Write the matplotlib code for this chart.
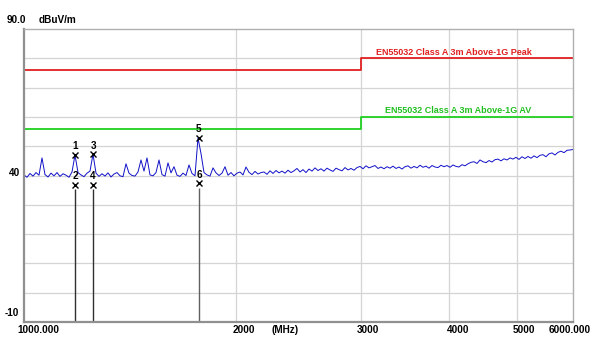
import matplotlib.pyplot as plt
import numpy as np

# sweep settings of the receiver (MHz)
f_start = 1000.0
f_stop = 6000.0

# measured trace (dBuV/m), one value per sweep point
trace = [
    40.2, 39.4, 40.7, 39.8, 41.0, 40.1, 46.0, 40.3, 39.5, 40.8,
    39.9, 41.0, 39.7, 40.6, 40.1, 39.4, 41.2, 47.0, 41.0, 40.2,
    39.6, 40.8, 41.5, 47.3, 40.8, 39.7, 40.6, 39.8, 40.9, 39.5,
    40.5, 41.0, 39.9, 39.6, 44.0, 40.8, 40.0, 39.8, 41.2, 45.3,
    41.5, 46.0, 40.2, 39.9, 41.0, 45.3, 40.3, 39.8, 44.3, 40.9,
    43.0, 40.1, 39.7, 40.8, 40.0, 43.6, 40.7, 39.9, 52.8, 47.5,
    41.0, 40.2, 39.8, 42.6, 40.9, 40.0, 40.8, 43.0, 40.1, 41.0,
    39.9, 40.8, 41.2, 40.2, 42.9, 41.1, 40.3, 41.4, 40.5, 41.0,
    41.2, 40.4, 41.6, 40.7, 41.7, 40.9, 41.5, 40.8, 41.8, 41.0,
    41.6, 42.4, 41.2, 42.0, 41.0, 42.2, 41.5, 42.6, 41.7, 42.3,
    41.5, 42.5, 41.9, 41.4, 42.5, 42.0, 41.6, 42.7, 41.9, 42.4,
    41.8, 42.7, 43.1, 42.3, 43.3, 42.6, 43.0, 43.4, 42.4, 42.9,
    42.3, 43.0, 42.5, 43.2, 42.4, 42.9, 42.2, 43.0, 43.3, 42.5,
    43.1, 42.6, 43.5, 42.8, 43.2, 42.5, 43.4, 42.9, 42.7, 43.5,
    43.0, 43.4, 42.8, 43.6, 43.1, 42.9, 43.7, 43.3, 44.0, 44.5,
    44.7, 44.1, 45.3, 44.7, 44.4, 45.1, 44.6, 45.4, 45.6, 45.0,
    45.7, 45.3, 46.0, 45.6, 46.2, 45.5, 46.4, 45.8, 46.5, 45.9,
    46.7, 46.1, 46.9, 47.1, 46.4, 47.4, 47.7, 47.0, 47.9, 48.3,
    47.8, 48.6, 48.7, 48.9,
]

# limit lines
limit_freq = [1000, 3000, 3000, 6000]
peak_limit = [76, 76, 80, 80]
av_limit = [56, 56, 60, 60]

# markers
marker_no = ["1", "2", "3", "4", "5", "6"]
marker_freq = [1181, 1181, 1253, 1253, 1770, 1770]
marker_level = [47.0, 36.8, 47.3, 36.8, 52.8, 37.4]

freq = np.geomspace(f_start, f_stop, len(trace))

W, H = 599, 340
fig = plt.figure(figsize=(W / 100, H / 100), dpi=100)
ax = fig.add_axes([24 / W, 18 / H, 549 / W, 293 / H])
ax.set_xscale("log")
ax.set_xlim(1000, 6000)
ax.set_ylim(-10, 90)

font = dict(family=["Liberation Sans", "DejaVu Sans"], fontsize=6.5, fontweight="bold")
tfont = dict(font, fontsize=7.2)

for y in range(0, 90, 10):
    ax.axhline(y, color="#d4d4d4", lw=0.9, zorder=0)
for x in [2000, 3000, 4000, 5000]:
    ax.axvline(x, color="#d4d4d4", lw=0.9, zorder=0)

ax.plot(limit_freq, peak_limit, color="#e02020", lw=1.3)
ax.plot(limit_freq, av_limit, color="#20d020", lw=1.3)
ax.text(3150, 81.2, "EN55032 Class A 3m Above-1G Peak", color="#e02020", **font)
ax.text(3250, 61.2, "EN55032 Class A 3m Above-1G AV", color="#20c020", **font)

ax.plot(freq, trace, color="#1010c8", lw=0.7)

for n, f, lv in zip(marker_no, marker_freq, marker_level):
    ax.plot(f, lv, marker="x", ms=5, mew=1.0, color="black", ls="none")
    ax.text(f, lv + 1.2, n, ha="center", va="bottom", **tfont)
    if int(n) % 2 == 0:
        ax.vlines(f, -10, lv - 1.5, color="#303030" if n != "6" else "#606060", lw=1.0)

ax.set_xticks([])
ax.set_yticks([])
ax.minorticks_off()
for side in ["left", "bottom"]:
    ax.spines[side].set_color("#909090")
    ax.spines[side].set_linewidth(1.6)
for side in ["right", "top"]:
    ax.spines[side].set_color("#b0b0b0")
    ax.spines[side].set_linewidth(1.0)

def px(x, y, s, **kw):
    fig.text(x / W, 1 - y / H, s, va="center", **tfont, **kw)

px(7, 20, "90.0")
px(39, 20, "dBuV/m")
px(9, 173, "40")
px(5, 313, "-10")
px(17, 330, "1000.000")
px(233, 330, "2000")
px(272, 330, "(MHz)")
px(357, 330, "3000")
px(447, 330, "4000")
px(513, 330, "5000")
px(549, 330, "6000.000")

fig.savefig("out.png", dpi=100, facecolor="white")
